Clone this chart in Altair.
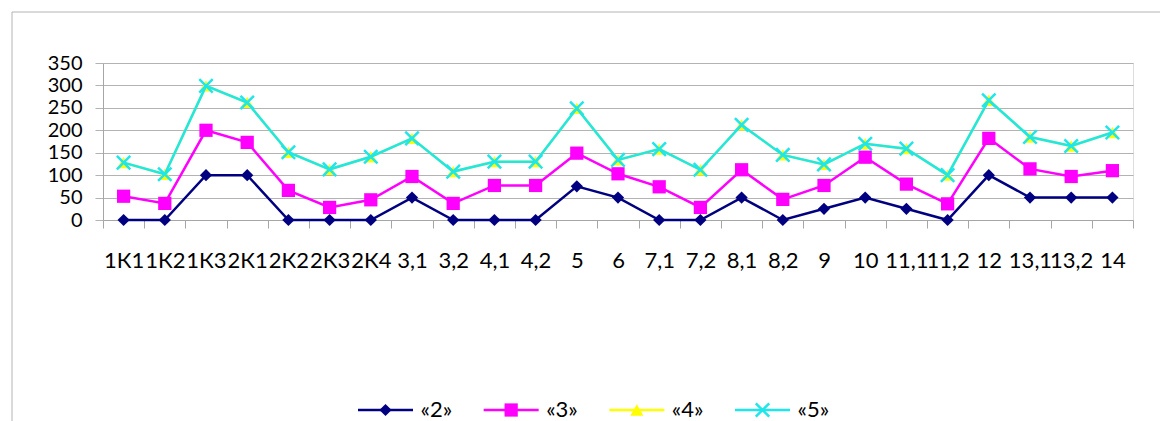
import altair as alt
import pandas as pd

categories = ["1К1", "1К2", "1К3", "2К1", "2К2", "2К3", "2К4", "3,1", "3,2", "4,1",
              "4,2", "5", "6", "7,1", "7,2", "8,1", "8,2", "9", "10", "11,1",
              "11,2", "12", "13,1", "13,2", "14"]
series_names = ["«2»", "«3»", "«4»", "«5»"]
s2 = [0, 0, 100, 100, 0, 0, 0, 50, 0, 0, 0, 75, 50, 0, 0, 50, 0, 25, 50, 25, 0, 100, 50, 50, 50]
s3 = [53, 37, 200, 173, 66, 28, 45, 97, 37, 77, 77, 149, 103, 74, 28, 112, 46, 77, 140, 80, 36, 182, 114, 97, 110]
s4 = [128, 102, 299, 262, 151, 113, 141, 182, 108, 130, 130, 249, 134, 158, 112, 212, 145, 124, 170, 159, 100, 267, 185, 165, 195]
s5 = [128, 102, 299, 262, 151, 113, 141, 182, 108, 130, 130, 249, 134, 158, 112, 212, 145, 124, 170, 159, 100, 267, 185, 165, 195]
y_ticks = [0, 50, 100, 150, 200, 250, 300, 350]

colors = ["#000080", "#FF00FF", "#FFFF00", "#1EE6EA"]
shapes = ["diamond", "square", "triangle-up", "M-1,-1L1,1M-1,1L1,-1"]
sizes = [150, 175, 170, 180]
FONT = "Lato"

rows = []
for name, vals in zip(series_names, [s2, s3, s4, s5]):
    for c, v in zip(categories, vals):
        rows.append({"series": name, "category": c, "value": v})
df = pd.DataFrame(rows)
legend_df = pd.DataFrame({"series": series_names})

xscale = alt.Scale(type="band", domain=categories, paddingInner=0, paddingOuter=0)
yscale = alt.Scale(domain=[0, 350], nice=False)

xaxis = alt.Axis(title=None, labelFont=FONT, labelFontSize=22, labelColor="#000000",
                 labelAngle=0, labelPadding=22, labelOverlap=False, labelLimit=0,
                 tickBand="extent", tickSize=8, tickColor="#a6a6a6",
                 domainColor="#a6a6a6", grid=False, labelFlush=False)
yaxis = alt.Axis(title=None, values=y_ticks, labelFont=FONT, labelFontSize=20,
                 labelColor="#000000", labelPadding=13, tickSize=8, labelOverlap=False,
                 tickColor="#b3b3b3", domainColor="#a6a6a6", grid=True,
                 gridColor="#b3b3b3")

data_layers = []
for i, name in enumerate(series_names):
    base = alt.Chart(df).transform_filter(alt.datum.series == name)
    x = alt.X("category:N", sort=categories, scale=xscale, axis=xaxis, bandPosition=0.5)
    y = alt.Y("value:Q", scale=yscale, axis=yaxis)
    line = base.mark_line(color=colors[i], strokeWidth=2.5).encode(x=x, y=y)
    if i == 3:
        pts = base.mark_point(shape=shapes[i], size=sizes[i], filled=False,
                              stroke=colors[i], strokeWidth=2.5, opacity=1).encode(x=x, y=y)
    else:
        pts = base.mark_point(shape=shapes[i], size=sizes[i], filled=True,
                              fill=colors[i], opacity=1).encode(x=x, y=y)
    data_layers += [line, pts]

data_chart = alt.layer(*data_layers)

lx_scale = alt.Scale(type="point", domain=series_names, range=[282.5, 659.5], padding=0)
legend_layers = []
for i, name in enumerate(series_names):
    lb = alt.Chart(legend_df).transform_filter(alt.datum.series == name)
    lx = alt.X("series:N", scale=lx_scale, axis=None)
    ly = alt.value(347)
    seg = lb.mark_point(shape="M-1,0L1,0", size=3025, filled=False, stroke=colors[i],
                        strokeWidth=2.5, opacity=1).encode(x=lx, y=ly)
    if i == 3:
        mk = lb.mark_point(shape=shapes[i], size=sizes[i], filled=False, stroke=colors[i],
                           strokeWidth=2.5, opacity=1).encode(x=lx, y=ly)
    else:
        mk = lb.mark_point(shape=shapes[i], size=sizes[i], filled=True, fill=colors[i],
                           opacity=1).encode(x=lx, y=ly)
    tx = lb.mark_text(align="left", baseline="middle", dx=35, font=FONT, fontSize=22,
                      color="#000000").encode(x=lx, y=ly, text="series:N")
    legend_layers += [seg, mk, tx]

legend_chart = alt.layer(*legend_layers)

frame_data = alt.Data(values=[{}])
frame_top = alt.Chart(frame_data).mark_rule(color="#b4b4b4", strokeWidth=1).encode(
    x=alt.value(-91), x2=alt.value(2000), y=alt.value(-51))
frame_left = alt.Chart(frame_data).mark_rule(color="#b4b4b4", strokeWidth=1).encode(
    x=alt.value(-91), y=alt.value(-51), y2=alt.value(800))

chart = alt.layer(frame_top, frame_left, data_chart, legend_chart).resolve_scale(
    x="independent").properties(
    width=1030, height=157, autosize="none",
    padding={"left": 95, "top": 55, "right": 27, "bottom": 205},
).configure_view(strokeWidth=0, stroke="transparent").configure(background="white")

chart.save("out.html", embed_options={"renderer": "svg", "actions": False})
